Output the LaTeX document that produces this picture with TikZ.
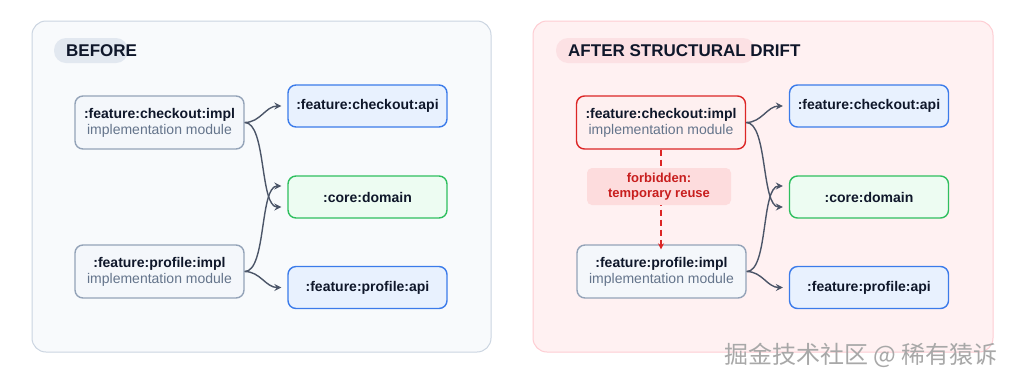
\documentclass[tikz,border=0pt]{standalone}
\usepackage{fontspec}
\setmainfont{Liberation Sans}
\newfontfamily\cjk{Noto Sans CJK SC}
\usetikzlibrary{arrows.meta}
\definecolor{panelA}{HTML}{F8FAFC}
\definecolor{panelAline}{HTML}{CBD5E1}
\definecolor{panelB}{HTML}{FFF1F2}
\definecolor{panelBline}{HTML}{FECDD3}
\definecolor{pillA}{HTML}{E2E8F0}
\definecolor{pillB}{HTML}{FCE1E4}
\definecolor{ink}{HTML}{0F172A}
\definecolor{muted}{HTML}{64748B}
\definecolor{impline}{HTML}{94A3B8}
\definecolor{implfill}{HTML}{F4F7FB}
\definecolor{apiline}{HTML}{3B7BEA}
\definecolor{apifill}{HTML}{E8F1FE}
\definecolor{domline}{HTML}{2FBF5F}
\definecolor{domfill}{HTML}{EDFCF2}
\definecolor{badline}{HTML}{DC2626}
\definecolor{badfill}{HTML}{FEF0F0}
\definecolor{warnfill}{HTML}{FDDCDD}
\definecolor{warntext}{HTML}{C81E1E}
\definecolor{edgecol}{HTML}{4B5568}
\definecolor{wmark}{HTML}{A8A8A8}
\tikzset{
  panel/.style={rounded corners=14pt, line width=1pt},
  modbox/.style={rounded corners=8pt, line width=1.4pt, minimum height=42pt,
    minimum width=159pt, inner sep=0pt, text=ink,
    font=\fontsize{14}{16}\selectfont\bfseries},
  implbox/.style={modbox, draw=impline, fill=implfill, minimum width=169pt,
    minimum height=53pt, align=center, font=\fontsize{14}{16}\selectfont},
  apibox/.style={modbox, draw=apiline, fill=apifill},
  dombox/.style={modbox, draw=domline, fill=domfill},
  badbox/.style={implbox, draw=badline, fill=badfill},
  dep/.style={draw=edgecol, line width=1.4pt,
    -{Stealth[length=7pt,width=7pt,inset=2.5pt]}},
  forbid/.style={draw=badline, line width=1.4pt, dash pattern=on 6pt off 4pt,
    -{Stealth[length=6pt,width=6pt,inset=2pt]}},
  titletext/.style={anchor=west, text=ink, font=\fontsize{17}{20}\selectfont\bfseries, inner sep=0pt},
}
\newcommand{\implname}[1]{{\bfseries #1}\\{\color{muted}implementation module}}
\begin{document}
\begin{tikzpicture}[x=1pt,y=-1pt]
\useasboundingbox (0,0) rectangle (1024,384);
\fill[white] (0,0) rectangle (1024,384);
% panels
\draw[panel, fill=panelA, draw=panelAline] (32,21) rectangle (491,352);
\draw[panel, fill=panelB, draw=panelBline] (533,21) rectangle (993,352);
% title pills
\fill[pillA, rounded corners=12pt] (54,38) rectangle (128,63);
\node[titletext] (tA) at (66,50.5) {BEFORE};
\fill[pillB, rounded corners=12pt] (556,38) rectangle (755,63);
\node[titletext] (tB) at (568,50.5) {AFTER STRUCTURAL DRIFT};
% left panel nodes
\node[implbox] (ci1) at (159.5,122.5) {\implname{:feature:checkout:impl}};
\node[implbox] (pi1) at (159.5,271.5) {\implname{:feature:profile:impl}};
\node[apibox] (ca1) at (367.5,106) {:feature:checkout:api};
\node[dombox] (cd1) at (367.5,197) {:core:domain};
\node[apibox] (pa1) at (367.5,287.5) {:feature:profile:api};
% right panel nodes
\node[badbox] (ci2) at (661,122.5) {\implname{:feature:checkout:impl}};
\node[implbox] (pi2) at (661.5,271.5) {\implname{:feature:profile:impl}};
\node[apibox] (ca2) at (869,106) {:feature:checkout:api};
\node[dombox] (cd2) at (869,197) {:core:domain};
\node[apibox] (pa2) at (869,287.5) {:feature:profile:api};
% left connectors
\draw[dep] (ci1.east) to[out=0,in=180] ([xshift=-6pt]ca1.west);
\draw[dep] (ci1.east) to[out=0,in=180,looseness=0.6] ([xshift=-6pt,yshift=-10pt]cd1.west);
\draw[dep] (pi1.east) to[out=0,in=180,looseness=0.6] ([xshift=-6pt,yshift=11pt]cd1.west);
\draw[dep] (pi1.east) to[out=0,in=180] ([xshift=-6pt]pa1.west);
% right connectors
\draw[dep] (ci2.east) to[out=0,in=180] ([xshift=-6pt]ca2.west);
\draw[dep] (ci2.east) to[out=0,in=180,looseness=0.6] ([xshift=-6pt,yshift=-10pt]cd2.west);
\draw[dep] (pi2.east) to[out=0,in=180,looseness=0.6] ([xshift=-6pt,yshift=11pt]cd2.west);
\draw[dep] (pi2.east) to[out=0,in=180] ([xshift=-6pt]pa2.west);
% forbidden dependency
\draw[forbid] (ci2.south) -- ([yshift=-5pt]ci2.south |- pi2.north);
\node[fill=warnfill, rounded corners=5pt, minimum width=144pt, minimum height=37pt,
  inner sep=0pt, align=center, text=warntext,
  font=\fontsize{13}{14.5}\selectfont\bfseries] (fb) at (659,186.5)
  {forbidden:\\temporary reuse};
% watermark
\node[anchor=west, inner sep=0pt, text=wmark, font=\cjk\fontsize{24}{26}\selectfont] (wm) at (724,355) {掘金技术社区 @ 稀有猿诉};
\end{tikzpicture}
\end{document}
